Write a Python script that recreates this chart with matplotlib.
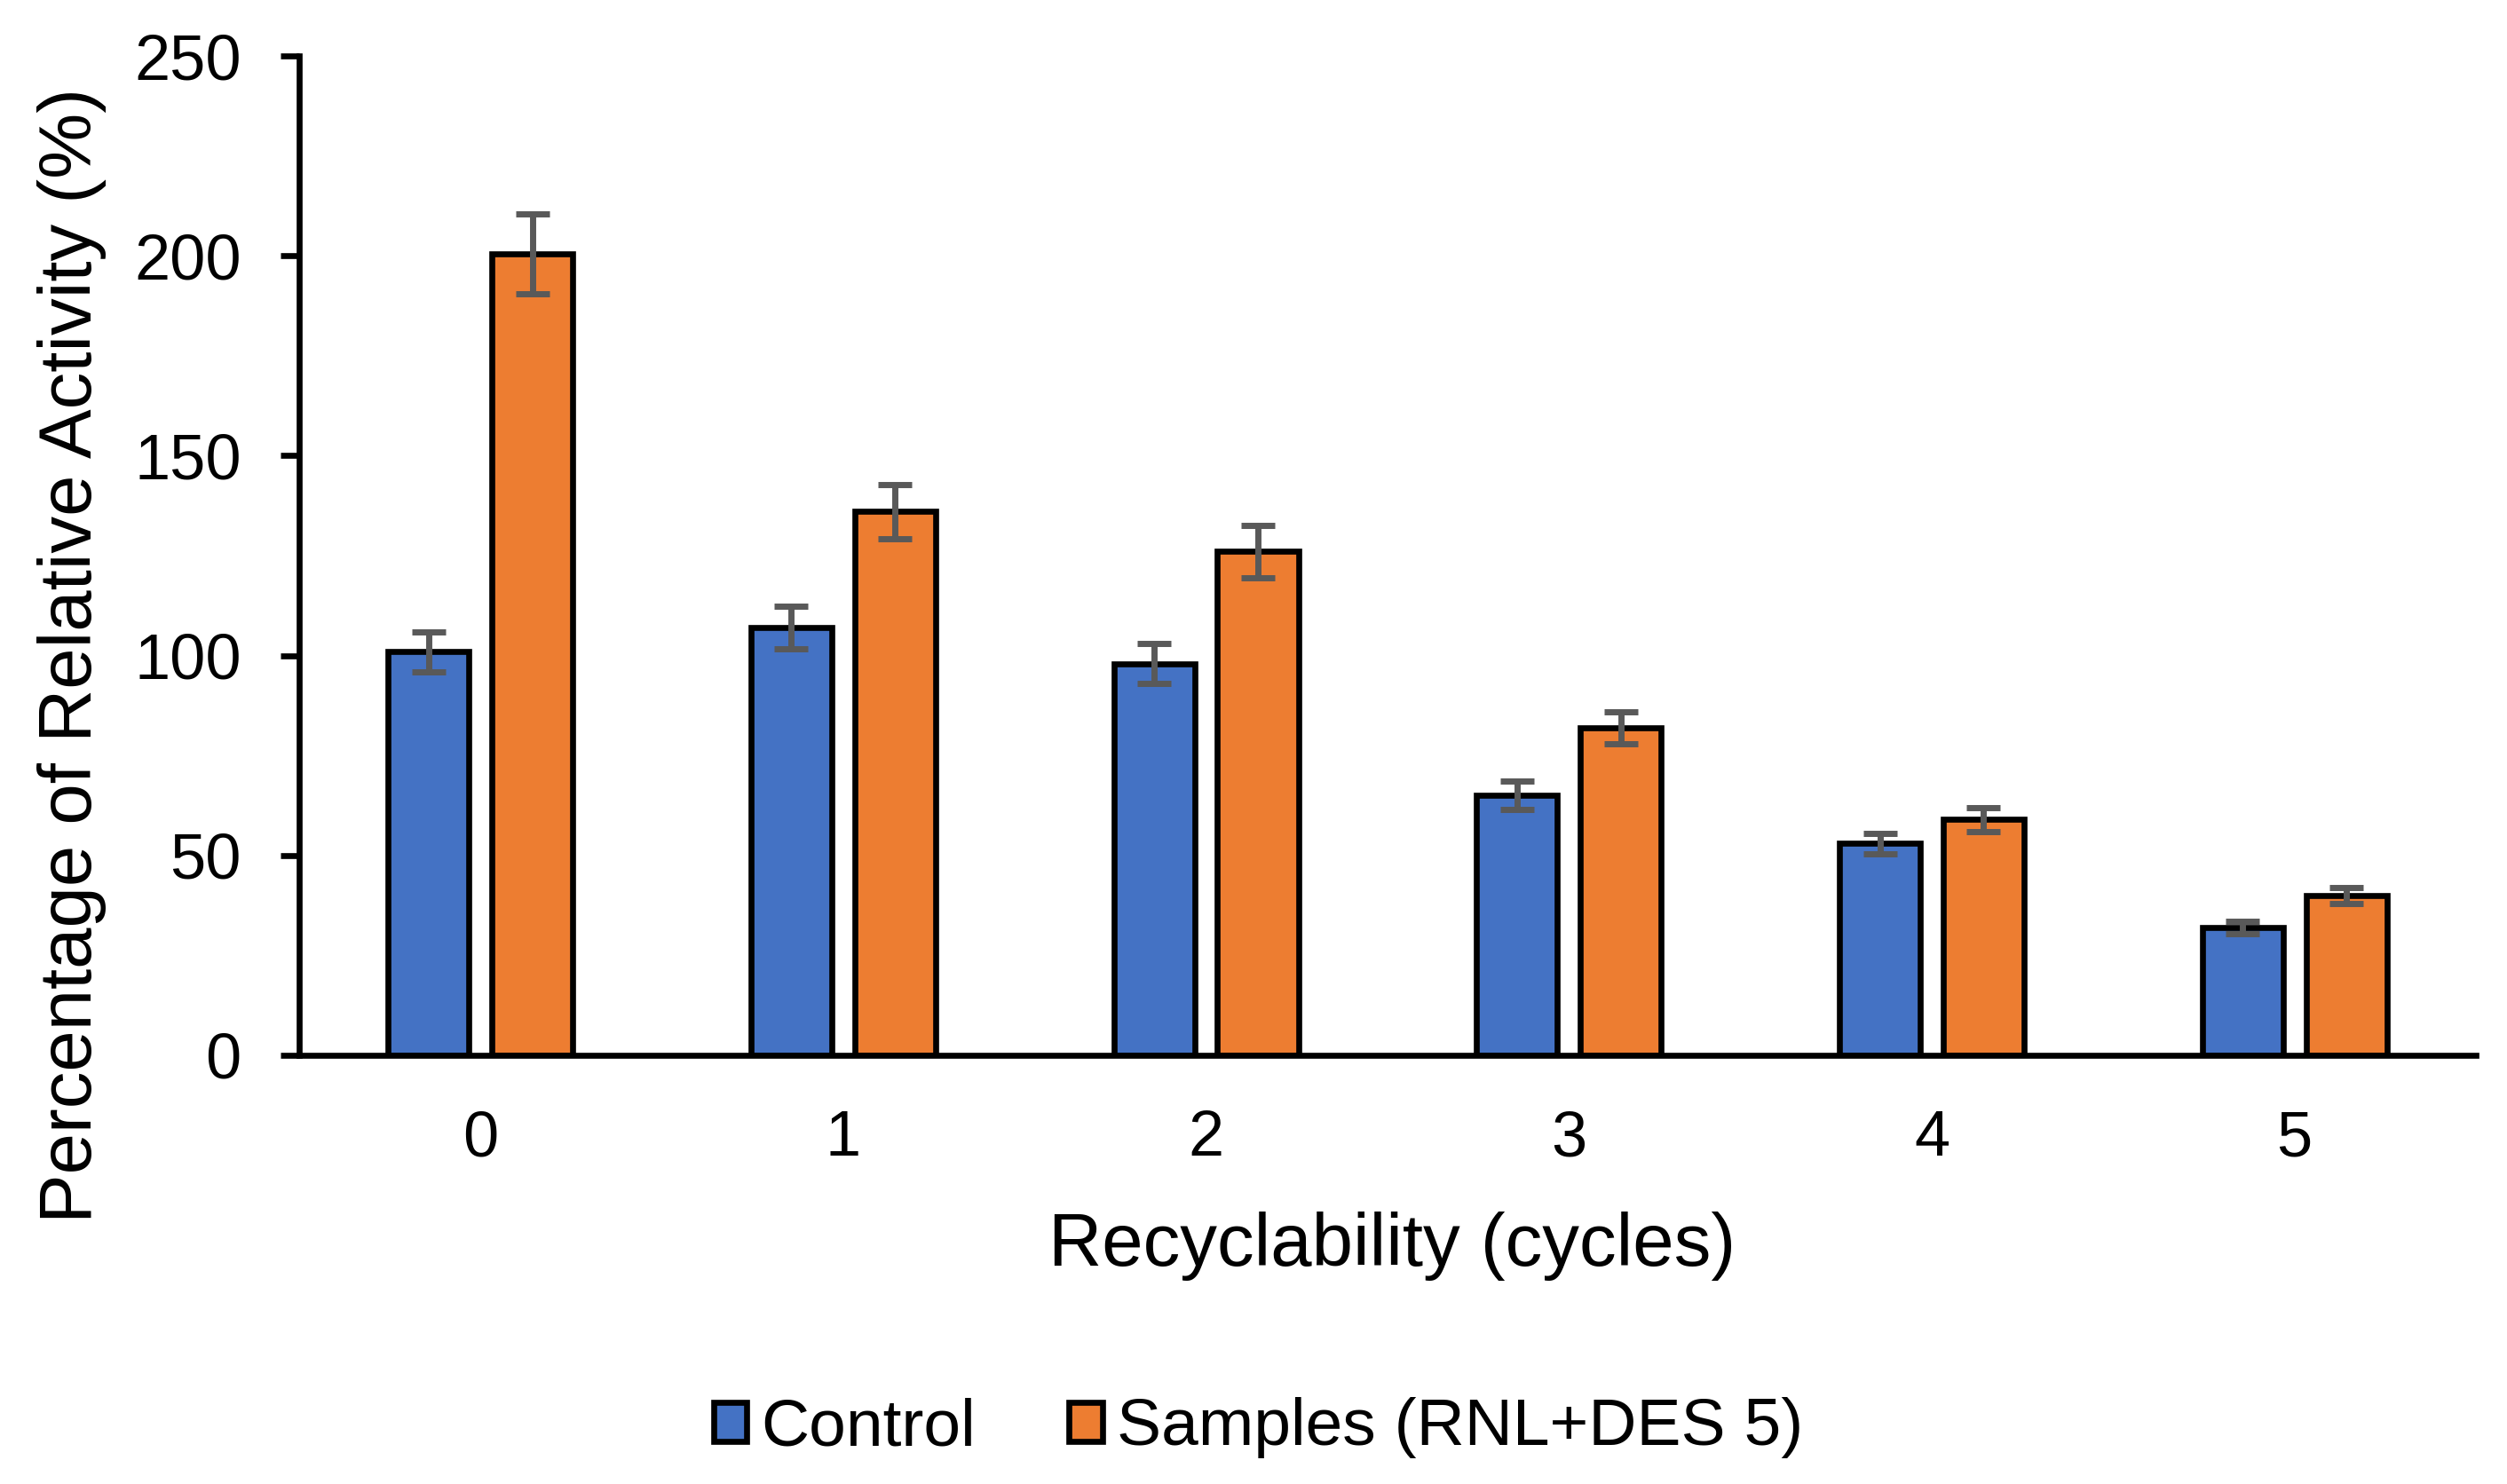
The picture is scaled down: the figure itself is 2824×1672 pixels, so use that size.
import matplotlib
matplotlib.use("Agg")
import matplotlib.pyplot as plt
import numpy as np

cycles = ["0", "1", "2", "3", "4", "5"]
control = [101, 107, 98, 65, 53, 32]
control_err = [5, 5.3, 5, 3.5, 2.5, 1.5]
samples = [200.5, 136, 126, 82, 59, 40]
samples_err = [10, 6.8, 6.5, 4, 3, 2]
series_names = ["Control", "Samples (RNL+DES 5)"]
yticks = [0, 50, 100, 150, 200, 250]

plt.rcParams['font.family'] = ['Liberation Sans', 'DejaVu Sans']

fig = plt.figure(figsize=(14.12, 8.36), dpi=200)
ax = fig.add_axes([0.1193, 0.2889, 0.9876 - 0.1193, 0.9623 - 0.2889])

x = np.arange(len(cycles))
w = 0.223
off = 0.143
lw = 2.4
ekw = dict(ecolor="#595959", elinewidth=2.5, capsize=7, capthick=2.5)
ax.bar(x - off, control, w, color="#4472C4", edgecolor="black", linewidth=lw,
       yerr=control_err, error_kw=ekw, label=series_names[0], zorder=2)
ax.bar(x + off, samples, w, color="#ED7D31", edgecolor="black", linewidth=lw,
       yerr=samples_err, error_kw=ekw, label=series_names[1], zorder=2)

ax.set_xlim(-0.5, 5.5)
ax.set_ylim(0, 250)
ax.set_yticks(yticks)
ax.set_xticks(x)
ax.set_xticklabels(cycles)
for s in ["top", "right"]:
    ax.spines[s].set_visible(False)
ax.spines["left"].set_linewidth(lw)
ax.spines["bottom"].set_linewidth(lw)
ax.tick_params(axis="y", length=7.5, width=lw, pad=16, labelsize=26)
ax.tick_params(axis="x", length=0, pad=22, labelsize=26)

ax.set_ylabel("Percentage of Relative Activity (%)", fontsize=30)
ax.set_xlabel("Recyclability (cycles)", fontsize=30)
ax.yaxis.set_label_coords(-0.1044, 0.4005)
ax.yaxis.label.set_va("center")
ax.xaxis.set_label_coords(0.502, -0.191)
ax.xaxis.label.set_va("center")

fig.legend(loc="center", bbox_to_anchor=(0.502, 0.0377), ncol=2, frameon=False,
           fontsize=27, handlelength=0.5, handleheight=0.52, handletextpad=0.22,
           columnspacing=1.4)

fig.savefig("out.png", dpi=200)
